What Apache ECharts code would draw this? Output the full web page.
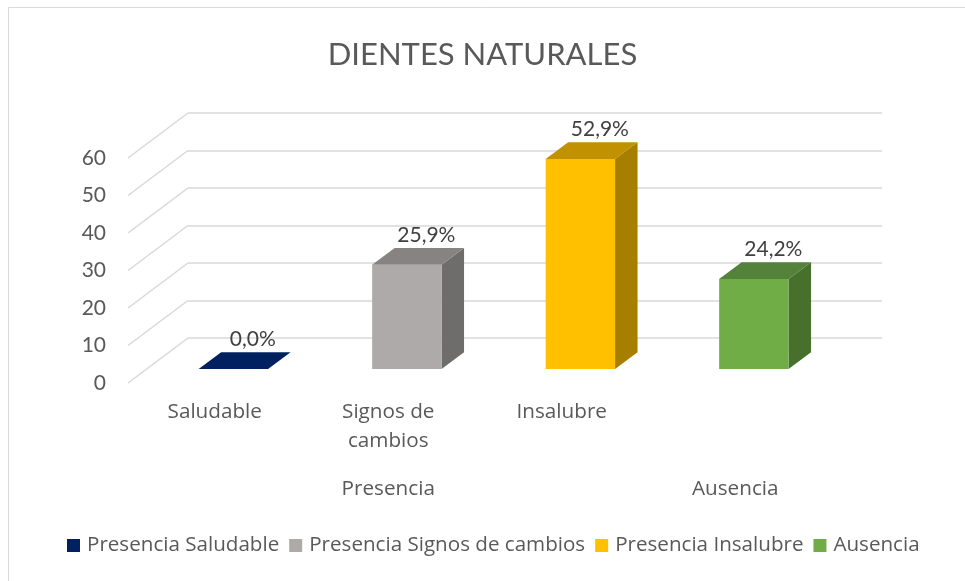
<!DOCTYPE html>
<html>
<head>
<meta charset="utf-8">
<script src="https://cdn.jsdelivr.net/npm/echarts@6/dist/echarts.min.js"></script>
<style>html,body{margin:0;padding:0;background:#fff}#c{width:965px;height:581px}</style>
</head>
<body>
<div id="c"></div>
<script>
const categories = ['Saludable', 'Signos de cambios', 'Insalubre', 'Ausencia'];
const tickLabels = ['Saludable', 'Signos de\ncambios', 'Insalubre', ''];
const groupLabels = ['', 'Presencia', '', 'Ausencia'];
const seriesNames = ['Presencia Saludable', 'Presencia Signos de cambios', 'Presencia Insalubre', 'Ausencia'];
const values = [0, 27.8, 56, 24];
const valueLabels = ['0,0%', '25,9%', '52,9%', '24,2%'];
const yTicks = [0, 10, 20, 30, 40, 50, 60];

const frontColors = ['#002060', '#AEAAAA', '#FFC000', '#70AD47'];
const topColors = ['#002060', '#878383', '#C29100', '#55823A'];
const sideColors = ['#002060', '#6F6C6C', '#A67E00', '#46702C'];

const FONT = 'Lato, "Open Sans", sans-serif';
const FONT2 = '"Open Sans", sans-serif';
const TXT = '#595959';
const DX = 60, DY = 45;           // depth of the 3D box
const OFF = 0.31;                 // bar front-face depth fraction
const BD = 0.375;                 // bar depth fraction
const BW = 0.40;                  // bar width fraction of category

function barRender(i) {
  return function (params, api) {
    const c0 = api.coord([api.value(0), 0]);
    const c1 = api.coord([api.value(0), api.value(1)]);
    const cw = api.size([1, 0])[0];
    const bw = cw * BW;
    const ox = OFF * DX, oy = OFF * DY;
    const ddx = BD * DX, ddy = BD * DY;
    const x0 = c0[0] + ox - bw / 2, x1 = x0 + bw;
    const yb = c0[1] - oy, yt = c1[1] - oy;
    const children = [];
    if (yb - yt > 0.5) {
      children.push({type: 'polygon', shape: {points: [[x1, yt], [x1 + ddx, yt - ddy], [x1 + ddx, yb - ddy], [x1, yb]]}, style: {fill: sideColors[i]}});
      children.push({type: 'rect', shape: {x: x0, y: yt, width: bw, height: yb - yt}, style: {fill: frontColors[i]}});
    }
    children.push({type: 'polygon', shape: {points: [[x0, yt], [x1, yt], [x1 + ddx, yt - ddy], [x0 + ddx, yt - ddy]]}, style: {fill: topColors[i]}});
    children.push({type: 'text', style: {text: valueLabels[i], x: (x0 + x1) / 2 + ddx - 3, y: yt - ddy - 13, align: 'center', verticalAlign: 'middle', fill: '#404040', font: '21px ' + FONT}});
    return {type: 'group', children: children};
  };
}

const chart = echarts.init(document.getElementById('c'));
const series = [{
  type: 'custom',
  xAxisIndex: 0, yAxisIndex: 0,
  z: 1,
  silent: true,
  data: yTicks.map(v => [0, v]),
  renderItem: function (params, api) {
    const p = api.coord([api.value(0), api.value(1)]);
    const w = api.size([1, 0])[0];
    const x = p[0] - w / 2;
    return {type: 'line', shape: {x1: x, y1: p[1], x2: x + DX, y2: p[1] - DY}, style: {stroke: '#D9D9D9', lineWidth: 1.5}};
  }
}];
seriesNames.forEach((n, i) => {
  series.push({
    type: 'custom', name: n,
    xAxisIndex: 0, yAxisIndex: 0, z: 3,
    itemStyle: {color: frontColors[i]},
    data: [[i, values[i]]],
    renderItem: barRender(i)
  });
});

chart.setOption({
  backgroundColor: '#fff',
  animation: false,
  title: {text: 'DIENTES NATURALES', left: 'center', top: 34, textStyle: {fontFamily: FONT, fontSize: 31, fontWeight: 'normal', color: TXT}},
  legend: {
    data: seriesNames, left: 67, top: 535, padding: 0, icon: 'rect', itemWidth: 13, itemHeight: 13, itemGap: 10,
    textStyle: {fontFamily: FONT2, fontSize: 20.6, color: TXT, padding: [0, 0, 0, 2]}
  },
  graphic: [{type: 'rect', shape: {x: 8.5, y: 7.5, width: 1000, height: 1000}, style: {fill: 'none', stroke: '#D9D9D9', lineWidth: 1}, z: -1}],
  grid: [
    {left: 128, right: 143, top: 158, bottom: 198},
    {left: 128 + DX, right: 143 - DX, top: 158 - DY, bottom: 198 + DY}
  ],
  xAxis: [
    {type: 'category', gridIndex: 0, data: tickLabels, axisLine: {show: false}, axisTick: {show: false},
      axisLabel: {interval: 0, margin: 15, fontFamily: FONT2, fontSize: 20.7, lineHeight: 29, color: TXT}},
    {type: 'category', gridIndex: 0, position: 'bottom', data: groupLabels, axisLine: {show: false}, axisTick: {show: false},
      axisLabel: {interval: 0, margin: 92, fontFamily: FONT2, fontSize: 20.7, lineHeight: 29, color: TXT}},
    {type: 'category', gridIndex: 1, data: categories, show: false}
  ],
  yAxis: [
    {type: 'value', gridIndex: 0, min: 0, max: 60, interval: 10, axisLine: {show: false}, axisTick: {show: false}, splitLine: {show: false},
      axisLabel: {margin: 22, fontFamily: FONT, fontSize: 21, color: TXT}},
    {type: 'value', gridIndex: 1, min: 0, max: 60, interval: 10, axisLine: {show: false}, axisTick: {show: false}, axisLabel: {show: false},
      splitLine: {show: true, lineStyle: {color: '#D9D9D9', width: 1.5}}}
  ],
  series: series
});
</script>
</body>
</html>
